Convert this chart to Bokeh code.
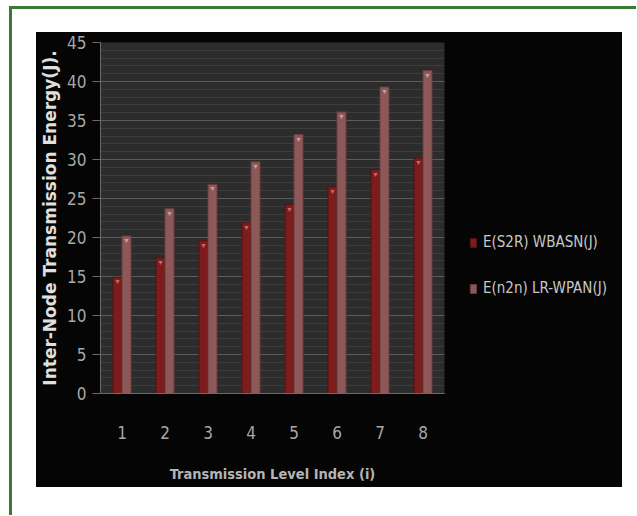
from bokeh.plotting import figure
from bokeh.models import ColumnDataSource, FixedTicker, Legend, LegendItem
from bokeh.layouts import column, row
from bokeh.transform import dodge
from bokeh.embed import file_html
from bokeh.resources import INLINE

levels = [1, 2, 3, 4, 5, 6, 7, 8]
e_s2r_wbasn = [14.9, 17.4, 19.6, 21.9, 24.2, 26.5, 28.7, 30.2]
e_n2n_lrwpan = [20.2, 23.7, 26.8, 29.7, 33.2, 36.1, 39.3, 41.4]
y_ticks = [0, 5, 10, 15, 20, 25, 30, 35, 40, 45]
series_names = ["E(S2R) WBASN(J)", "E(n2n) LR-WPAN(J)"]

src = ColumnDataSource(dict(x=levels, a=e_s2r_wbasn, b=e_n2n_lrwpan,
                            tri=["\u25BC"] * len(levels)))

NARROW = "DejaVu Sans Condensed"
RED_FILL, RED_LINE = "#7c1c1c", "#5a1010"
PINK_FILL, PINK_LINE = "#8c5858", "#6a3c3c"
BLACK = "#050505"

p = figure(width=409, height=455, x_range=(0.5, 8.5), y_range=(0, 45),
           output_backend="svg", toolbar_location=None,
           background_fill_color="#2c2c2c", border_fill_color=BLACK,
           outline_line_color=None,
           min_border_left=64, min_border_right=1,
           min_border_top=10, min_border_bottom=94)

p.vbar(x=dodge("x", -0.105, range=p.x_range), top="a", width=0.21, bottom=0,
       source=src, fill_color=RED_FILL, line_color=RED_LINE, line_width=1)
p.vbar(x=dodge("x", 0.105, range=p.x_range), top="b", width=0.21, bottom=0,
       source=src, fill_color=PINK_FILL, line_color=PINK_LINE, line_width=1)
p.text(x=dodge("x", -0.105, range=p.x_range), y="a", text="tri", source=src,
       text_align="center", text_baseline="top", text_font_size="7px",
       text_color="#c46a6a", y_offset=1)
p.text(x=dodge("x", 0.105, range=p.x_range), y="b", text="tri", source=src,
       text_align="center", text_baseline="top", text_font_size="7px",
       text_color="#c8a0a0", y_offset=1)

# grids
p.xgrid.grid_line_color = None
p.ygrid.grid_line_color = "#5c5c5c"
p.ygrid.minor_grid_line_color = "#3d3d3d"
p.ygrid.ticker = FixedTicker(ticks=y_ticks, minor_ticks=list(range(0, 46)))

# y axis
p.yaxis.ticker = FixedTicker(ticks=y_ticks)
p.yaxis.axis_line_color = "#6a6a6a"
p.yaxis.major_tick_line_color = "#6a6a6a"
p.yaxis.major_tick_out = 8
p.yaxis.major_tick_in = 0
p.yaxis.minor_tick_line_color = None
p.yaxis.major_label_text_color = "#a8a8a8"
p.yaxis.major_label_text_font = NARROW
p.yaxis.major_label_text_font_size = "17px"
p.yaxis.major_label_standoff = 6
p.yaxis.axis_label = "Inter-Node Transmission Energy(J)."
p.yaxis.axis_label_text_color = "#e0e0e0"
p.yaxis.axis_label_text_font = "DejaVu Sans"
p.yaxis.axis_label_text_font_style = "bold"
p.yaxis.axis_label_text_font_size = "17px"
p.yaxis.axis_label_standoff = 4

# x axis
p.xaxis.ticker = FixedTicker(ticks=levels)
p.xaxis.axis_line_color = "#6a6a6a"
p.xaxis.major_tick_line_color = None
p.xaxis.minor_tick_line_color = None
p.xaxis.major_label_text_color = "#a8a8a8"
p.xaxis.major_label_text_font = NARROW
p.xaxis.major_label_text_font_size = "17px"
p.xaxis.major_label_standoff = 26
p.xaxis.axis_label = "Transmission Level Index (i)"
p.xaxis.axis_label_text_color = "#b4b4b4"
p.xaxis.axis_label_text_font = NARROW
p.xaxis.axis_label_text_font_style = "bold"
p.xaxis.axis_label_text_font_size = "14.5px"
p.xaxis.axis_label_standoff = 24

# legend panel (black area right of the plot)
lf = figure(width=177, height=455, x_range=(0, 1), y_range=(0, 1),
            output_backend="svg", toolbar_location=None,
            x_axis_type=None, y_axis_type=None,
            background_fill_color=BLACK, border_fill_color=BLACK,
            outline_line_color=None, min_border=0)
lf.xgrid.grid_line_color = None
lf.ygrid.grid_line_color = None
r1 = lf.vbar(x=[-5], top=[-5], bottom=[-6], width=0.1, fill_color=RED_FILL, line_color=RED_LINE)
r2 = lf.vbar(x=[-5], top=[-5], bottom=[-6], width=0.1, fill_color=PINK_FILL, line_color=PINK_LINE)
legend = Legend(items=[LegendItem(label=series_names[0], renderers=[r1]),
                       LegendItem(label=series_names[1], renderers=[r2])],
                location=(24, 95), orientation="vertical",
                background_fill_alpha=0, border_line_color=None,
                label_text_color="#c8c8c8", label_text_font=NARROW,
                label_text_font_size="15px", glyph_width=8, glyph_height=11,
                label_height=20, spacing=26, padding=0, margin=0,
                label_standoff=6)
lf.add_layout(legend, "center")

body = row(p, lf, margin=(23, 14, 28, 24), styles={"background-color": BLACK})
page = column(body, margin=(6, 0, 0, 9),
              styles={"border-left": "3px solid #3b7a34",
                      "border-top": "3px solid #3b7a34"})

open("out.html", "w").write(file_html(page, INLINE))
